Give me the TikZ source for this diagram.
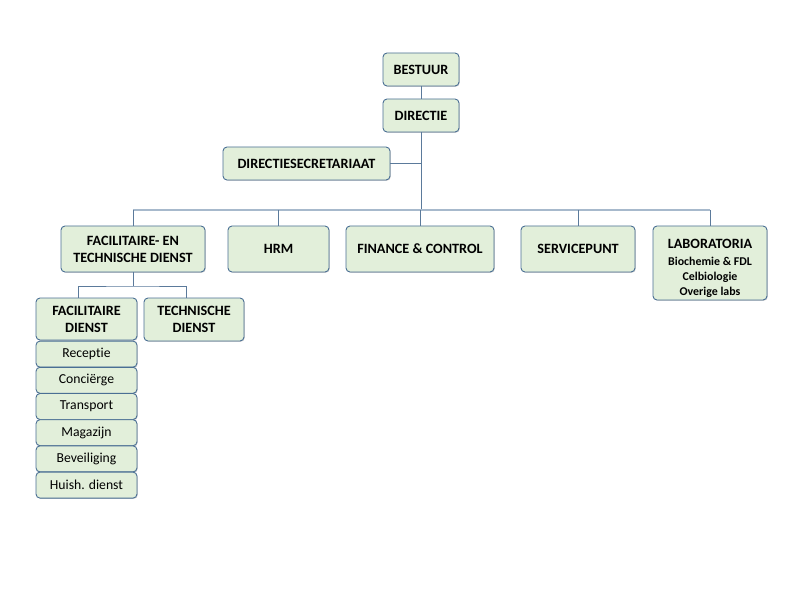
\documentclass[tikz,border=0pt]{standalone}
\usepackage{fontspec}
\setmainfont{Carlito}[Ligatures=NoCommon]
\usetikzlibrary{shadows}
\definecolor{boxfill}{HTML}{E2EFDA}
\definecolor{boxline}{HTML}{4A6F94}
\definecolor{linkline}{HTML}{5B7A9B}
\definecolor{busgrey}{HTML}{A7B9CC}
\tikzstyle{orgbox} = [draw=boxline, fill=boxfill, line width=0.9pt,
    rounded corners=4pt, align=center, inner sep=2pt,
    font=\fontsize{14.2}{17}\selectfont\bfseries,
    drop shadow={shadow xshift=0.8pt, shadow yshift=-0.8pt, opacity=0.35}]
\tikzstyle{itembox} = [orgbox, font=\fontsize{13.7}{15}\selectfont,
    minimum width=101, minimum height=26]
\tikzstyle{orgline} = [draw=linkline, line width=0.8pt]
\tikzstyle{busline} = [draw=busgrey, line width=1.6pt]

\begin{document}
\begin{tikzpicture}[x=1pt,y=-1pt]
\useasboundingbox (0,0) rectangle (792,612);

\node[orgbox, minimum width=76, minimum height=33] (bestuur) at (421,69.5) {BESTUUR};
\node[orgbox, minimum width=76, minimum height=33] (directie) at (421,115.5) {DIRECTIE};
\node[orgbox, minimum width=167, minimum height=33] (secretariaat) at (306.5,163.5) {DIRECTIESECRETARIAAT};

\coordinate (busmid) at (421,210);

% second row
\node[orgbox, minimum width=144, minimum height=46] (facttd) at (133,249) {FACILITAIRE- EN\\TECHNISCHE DIENST};
\node[orgbox, minimum width=101, minimum height=46] (hrm) at (278.5,249) {HRM};
\node[orgbox, minimum width=148, minimum height=46] (finance) at (420,249) {FINANCE \& CONTROL};
\node[orgbox, minimum width=114, minimum height=46] (servicepunt) at (578,249) {SERVICEPUNT};
\node[orgbox, minimum width=114, minimum height=74,
      font=\fontsize{11.9}{15}\selectfont\bfseries] (lab) at (710,263)
    {{\fontsize{14.2}{17}\selectfont\rule{0pt}{20pt}LABORATORIA}\\[2pt]
     Biochemie \& FDL\\ Celbiologie\\ Overige labs};

% third row
\coordinate (subbus) at (133,286);
\node[orgbox, minimum width=101, minimum height=42] (facd) at (86.5,319) {FACILITAIRE\\DIENST};
\node[orgbox, minimum width=100, minimum height=43] (techd) at (194,319.5) {TECHNISCHE\\DIENST};

\foreach \item [count=\i] in {Receptie,Conciërge,Transport,Magazijn,Beveiliging,Huish. dienst}
    \node[itembox] (item\i) at (86.5,{341+26.2*(\i-0.5)}) {\item};

\draw[orgline] (bestuur) -- (directie);
\draw[orgline] (directie.south) -- (busmid);
\draw[orgline] (secretariaat.east) -- (secretariaat.east -| busmid);
\draw[busline] (facttd.north |- busmid) -- (lab.north |- busmid);
\foreach \n in {facttd,hrm,finance,servicepunt,lab}
    \draw[orgline] (\n.north |- busmid) -- (\n.north);
\draw[orgline] (facttd.south) -- (subbus);
\draw[orgline] ([xshift=-8pt]facd.north) |- (subbus) -| ([xshift=-8pt]techd.north);
\end{tikzpicture}
\end{document}
